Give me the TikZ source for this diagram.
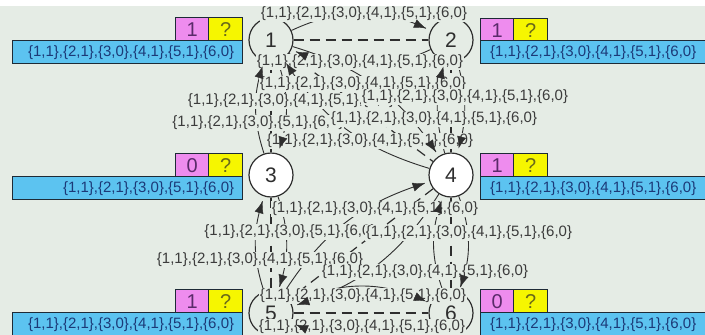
\documentclass[tikz,border=0pt]{standalone}
\usepackage{fontspec}
\setmainfont{Liberation Sans}
\usetikzlibrary{arrows.meta,decorations.markings}
\definecolor{bg}{HTML}{E5ECE5}
\definecolor{pinkbox}{HTML}{EE8CEE}
\definecolor{yellowbox}{HTML}{F6F600}
\definecolor{bluebox}{HTML}{5CC3F0}
\definecolor{boxline}{HTML}{1E2A36}
\definecolor{ink}{HTML}{2E2E2E}
\definecolor{labelink}{HTML}{3C3C3C}
\definecolor{pinktext}{HTML}{5A2A6A}
\definecolor{yellowtext}{HTML}{6A6A1A}
\definecolor{bluetext}{HTML}{1C3A78}
\begin{document}
\begin{tikzpicture}[x=1pt,y=-1pt,
  vert/.style={circle, draw=ink, line width=1.2pt, minimum size=44pt, inner sep=0pt,
    font=\fontsize{21}{21}\selectfont, text=ink},
  activevert/.style={vert, fill=white},
  elabel/.style={fill=bg, inner xsep=0.5pt, inner ysep=0.6pt,
    font=\fontsize{15}{15}\selectfont, text=labelink},
  link/.style={draw=ink, line width=1.2pt, dash pattern=on 10pt off 6pt},
  msg/.style={draw=ink, line width=0.9pt, shorten >=5pt},
  tipmark/.style={decoration={markings, mark=at position -5pt with {\arrow[ink]{Latex[length=12pt,width=9pt]}}}, decorate},
  cell/.style={draw=boxline, line width=1.3pt, minimum height=23pt, inner sep=0pt, anchor=north west},
  pinkcell/.style={cell, fill=pinkbox, minimum width=33pt, text=pinktext, font=\fontsize{20}{20}\selectfont},
  yellowcell/.style={cell, fill=yellowbox, minimum width=34pt, text=yellowtext, font=\fontsize{20}{20}\selectfont},
  bluecell/.style={cell, fill=bluebox},
  boxtext/.style={inner sep=0pt, text=bluetext, font=\fontsize{15}{15}\selectfont}
]
\useasboundingbox (0,0) rectangle (705,335);
\clip (0,0) rectangle (705,335);
\fill[bg] (0,0) rectangle (705,335);
\fill[white] (0,0) rectangle (705,6);

% vertices
\node[vert] (n1) at (271,40) {1};
\node[vert] (n2) at (451,40) {2};
\node[activevert] (n3) at (271,175) {3};
\node[activevert] (n4) at (451,175) {4};
\node[vert] (n5) at (271,313) {5};
\node[vert] (n6) at (451,313) {6};

% info boxes
\node[pinkcell] (p1) at (175,17) {1};
\node[yellowcell] (y1) at (208,17) {?};
\node[bluecell, minimum width=230pt] (b1) at (12,40) {};
\node[boxtext, anchor=east] (t1) at ([xshift=-9pt]b1.east) {\{1,1\},\{2,1\},\{3,0\},\{4,1\},\{5,1\},\{6,0\}};

\node[pinkcell] (p3) at (175,153) {0};
\node[yellowcell] (y3) at (208,153) {?};
\node[bluecell, minimum width=230pt] (b3) at (12,176) {};
\node[boxtext, anchor=east] (t3) at ([xshift=-9pt]b3.east) {\{1,1\},\{2,1\},\{3,0\},\{5,1\},\{6,0\}};

\node[pinkcell] (p5) at (175,289) {1};
\node[yellowcell] (y5) at (208,289) {?};
\node[bluecell, minimum width=230pt] (b5) at (12,312) {};
\node[boxtext, anchor=east] (t5) at ([xshift=-9pt]b5.east) {\{1,1\},\{2,1\},\{3,0\},\{4,1\},\{5,1\},\{6,0\}};

\node[pinkcell] (p2) at (480,18) {1};
\node[yellowcell] (y2) at (513,18) {?};
\node[bluecell, minimum width=232pt] (b2) at (480,40) {};
\node[boxtext, anchor=west] (t2) at ([xshift=10pt]b2.west) {\{1,1\},\{2,1\},\{3,0\},\{4,1\},\{5,1\},\{6,0\}};

\node[pinkcell] (p4) at (480,153) {1};
\node[yellowcell] (y4) at (513,153) {?};
\node[bluecell, minimum width=232pt] (b4) at (480,176) {};
\node[boxtext, anchor=west] (t4) at ([xshift=10pt]b4.west) {\{1,1\},\{2,1\},\{3,0\},\{4,1\},\{5,1\},\{6,0\}};

\node[pinkcell] (p6) at (480,289) {0};
\node[yellowcell] (y6) at (513,289) {?};
\node[bluecell, minimum width=232pt] (b6) at (480,312) {};
\node[boxtext, anchor=west] (t6) at ([xshift=10pt]b6.west) {\{1,1\},\{2,1\},\{3,0\},\{4,1\},\{5,1\},\{6,0\}};

% links (dashed)
\foreach \a/\b in {n1/n2, n1/n3, n1/n4, n2/n4, n3/n5, n4/n5, n4/n6, n5/n6}
  \draw[link] (\a) -- (\b);

% message lines
\foreach \a/\b/\t in {n1/n2/25, n2/n1/25, n1/n3/18, n3/n1/18, n1/n4/20, n4/n1/20,
                      n2/n4/16, n4/n2/16, n3/n5/18, n5/n3/18, n4/n5/20, n5/n4/20,
                      n4/n6/20, n6/n4/20, n5/n6/25, n6/n5/25}
  \draw[msg] (\a) to[bend left=\t] (\b);

% message labels
\node[elabel] (l1) at (364,14) {\{1,1\},\{2,1\},\{3,0\},\{4,1\},\{5,1\},\{6,0\}};
\node[elabel] (l2) at (360,62) {\{1,1\},\{2,1\},\{3,0\},\{4,1\},\{5,1\},\{6,0\}};
\node[elabel] (l3) at (363,84) {\{1,1\},\{2,1\},\{3,0\},\{4,1\},\{5,1\},\{6,0\}};
\node[elabel] (l4) at (291,101) {\{1,1\},\{2,1\},\{3,0\},\{4,1\},\{5,1\},\{6,0\}};
\node[elabel] (l6) at (258,123) {\{1,1\},\{2,1\},\{3,0\},\{5,1\},\{6,0\}};
\node[elabel] (l5) at (465,97) {\{1,1\},\{2,1\},\{3,0\},\{4,1\},\{5,1\},\{6,0\}};
\node[elabel] (l7) at (434,119) {\{1,1\},\{2,1\},\{3,0\},\{4,1\},\{5,1\},\{6,0\}};
\node[elabel] (l8) at (370,141) {\{1,1\},\{2,1\},\{3,0\},\{4,1\},\{5,1\},\{6,0\}};
\node[elabel] (l9) at (375,209) {\{1,1\},\{2,1\},\{3,0\},\{4,1\},\{5,1\},\{6,0\}};
\node[elabel] (l10) at (290,232) {\{1,1\},\{2,1\},\{3,0\},\{5,1\},\{6,0\}};
\node[elabel] (l11) at (469,233) {\{1,1\},\{2,1\},\{3,0\},\{4,1\},\{5,1\},\{6,0\}};
\node[elabel] (l12) at (260,260) {\{1,1\},\{2,1\},\{3,0\},\{4,1\},\{5,1\},\{6,0\}};
\node[elabel] (l13) at (425,272) {\{1,1\},\{2,1\},\{3,0\},\{4,1\},\{5,1\},\{6,0\}};
\node[elabel] (l14) at (363,296) {\{1,1\},\{2,1\},\{3,0\},\{4,1\},\{5,1\},\{6,0\}};
\node[elabel] (l15) at (362,327) {\{1,1\},\{2,1\},\{3,0\},\{4,1\},\{5,1\},\{6,0\}};

% arrow heads on top
\foreach \a/\b/\t in {n1/n2/25, n2/n1/25, n1/n3/18, n3/n1/18, n1/n4/20, n4/n1/20,
                      n2/n4/16, n4/n2/16, n3/n5/18, n5/n3/18, n4/n5/20, n5/n4/20,
                      n4/n6/20, n6/n4/20, n5/n6/25, n6/n5/25}
  \path[tipmark] (\a) to[bend left=\t] (\b);
\end{tikzpicture}
\end{document}
